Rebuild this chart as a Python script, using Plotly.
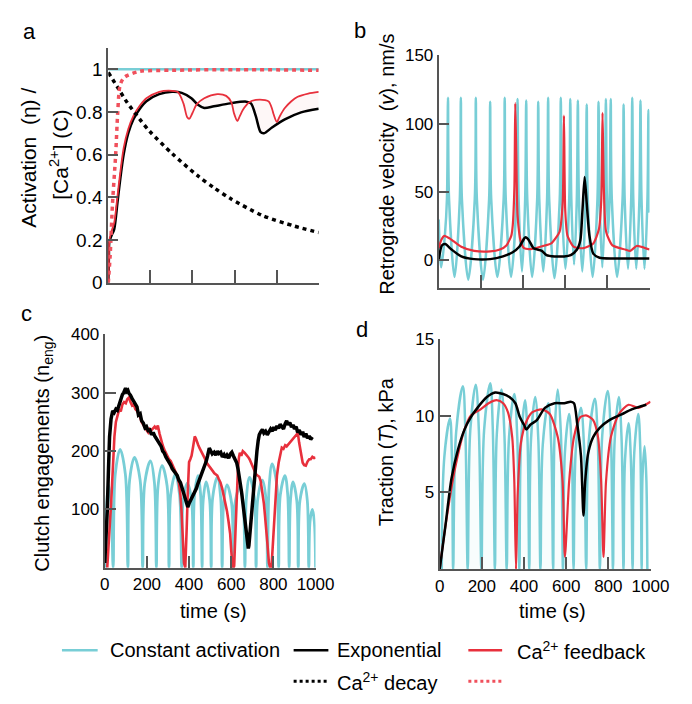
import plotly.graph_objects as go

W, H = 692, 704

# ---------------- colours ----------------
CYAN = "#78ced6"
BLACK = "#000000"
RED = "#e8303c"
RED_DOT = "#f0505c"
AXIS = "#555555"
FONT = "Liberation Sans, Arial, Helvetica, sans-serif"

# ---------------- panel a: activation / calcium ----------------
a_const_t = [0, 1000]
a_const_v = [1.0, 1.0]

a_cadecay_t = [0, 43, 89, 150, 196, 303, 426, 502, 579, 732, 885, 1000]
a_cadecay_v = [0.985, 0.917, 0.845, 0.765, 0.71, 0.605, 0.5, 0.445, 0.395, 0.315, 0.265, 0.235]

a_cafb_t = [0, 9, 20, 35, 45, 55, 70, 89, 150, 300, 600, 1000]
a_cafb_v = [0.0, 0.13, 0.37, 0.6, 0.8, 0.92, 0.955, 0.97, 0.99, 0.995, 0.998, 0.995]

a_exp_t = [0, 3, 5, 15, 28, 43, 55, 73, 95, 119, 150, 181, 242, 303, 349, 395, 426, 456,
           502, 579, 655, 678, 701, 724, 740, 778, 839, 916, 1000]
a_exp_v = [0.0, 0.12, 0.19, 0.22, 0.25, 0.37, 0.47, 0.6, 0.7, 0.765, 0.815, 0.85, 0.883,
           0.894, 0.889, 0.864, 0.833, 0.818, 0.826, 0.84, 0.848, 0.84, 0.78, 0.705, 0.7,
           0.727, 0.765, 0.798, 0.815]

a_fb_t = [0, 3, 5, 15, 28, 43, 55, 73, 95, 119, 150, 181, 242, 288, 330, 357, 375, 385, 400,
          420, 456, 518, 560, 585, 597, 613, 625, 640, 670, 701, 745, 763, 778, 786, 801, 815,
          839, 870, 900, 950, 1000]
a_fb_v = [0.0, 0.12, 0.2, 0.24, 0.28, 0.4, 0.5, 0.63, 0.72, 0.78, 0.83, 0.864, 0.894, 0.9,
          0.893, 0.84, 0.775, 0.768, 0.795, 0.835, 0.864, 0.883, 0.875, 0.845, 0.795, 0.758,
          0.78, 0.81, 0.845, 0.856, 0.855, 0.848, 0.815, 0.788, 0.753, 0.78, 0.818, 0.85,
          0.871, 0.886, 0.894]

# ---------------- panel b: retrograde velocity ----------------
b_const_t = [0, 12, 30, 39, 44,
             49, 75, 100, 105, 110, 140, 171, 176, 181, 210, 239, 244, 249, 278, 308, 313,
             318, 343, 369, 374, 379, 395, 410, 415, 420, 443, 467, 472, 477, 496, 514, 519,
             524, 549, 574, 579, 584, 601, 619, 624, 629, 642, 655, 660, 665, 681, 697, 702,
             707, 730, 753, 758, 763, 776, 788, 793, 797, 804, 811, 816, 821, 846, 872, 877,
             882, 898, 913, 918, 923, 937, 952, 957, 962, 976, 990, 995, 1000]
b_const_v = [30, -5, 20, 45, 119,
             45, -12, 45, 119, 45, -14, 45, 119, 45, -14, 45, 116, 45, -12, 45, 119,
             45, -12, 45, 118, 45, -8, 45, 117, 45, -12, 45, 116, 45, -8, 45, 119,
             45, -13, 45, 119, 45, -6, 45, 118, 45, -3, 45, 117, 45, -8, 45, 114,
             45, -12, 45, 116, 45, -5, 45, 118, 50, 20, 50, 118, 45, -12, 45, 114,
             45, -6, 45, 119, 45, -6, 45, 117, 45, -6, 45, 110, 35]

b_exp_t = [0, 15, 31, 61, 107, 168, 244, 305, 351, 382, 405, 412, 427, 450, 489, 511, 550,
           595, 626, 656, 672, 682, 692, 702, 715, 733, 763, 824, 901, 1000]
b_exp_v = [0.7, 11, 12, 8, 3, 1, 1, 3, 6, 10, 16, 17, 15, 9, 7, 4, 3, 3, 4, 8, 15, 37, 61,
           42, 18, 5, 2, 1.4, 1.4, 1.4]

b_fb_t = [0, 12, 27, 53, 107, 168, 244, 290, 321, 344, 351, 359, 363, 368, 374, 389, 405,
          443, 504, 534, 573, 588, 594, 600, 611, 641, 687, 733, 760, 771, 777, 783, 794,
          824, 885, 908, 939, 962, 1000]
b_fb_v = [9, 15, 18, 16, 10, 7, 6.6, 8, 11, 18, 25.5, 54, 115, 77, 33, 14, 9, 8.5, 11,
          12.5, 21, 42, 106, 37, 18, 10, 9, 12.5, 23, 44, 108, 54, 21, 11, 8, 7, 10.6, 10, 8]

# ---------------- panel c: clutch engagements ----------------
c_const_t = [5, 10, 18, 30, 40, 50, 73, 98, 110, 118, 141, 168, 180, 190, 217, 236, 245,
             253, 272, 296, 305, 313, 335, 355, 365, 372, 392, 412, 420, 426, 443, 455, 462,
             467, 481, 498, 505, 512, 534, 550, 557, 564, 580, 602, 610, 618, 641, 657, 665,
             672, 687, 710, 718, 726, 748, 765, 772, 780, 794, 817, 825, 833, 855, 868, 875,
             881, 893, 911, 918, 926, 947, 961, 968, 974, 985, 994, 1000]
c_const_v = [0, 110, 142, 110, 0, 160, 203, 160, 0, 150, 189, 150, 0, 145, 183, 145, 0,
             140, 175, 140, 0, 125, 160, 125, 0, 115, 145, 115, 0, 125, 158, 125, 0,
             115, 147, 115, 0, 120, 155, 120, 0, 110, 142, 110, 0, 110, 139, 110, 0,
             120, 155, 120, 0, 118, 150, 118, 0, 140, 178, 140, 0, 125, 158, 125, 0,
             115, 147, 115, 0, 115, 144, 115, 0, 80, 100, 80, 0]

c_exp_t = [0, 6, 12, 18, 23, 30, 38, 45, 53, 60, 69, 76, 84, 90, 95, 99, 104, 110, 115, 122,
           130, 138, 145, 153, 160, 168, 175, 183, 191, 198, 206, 214, 222, 230, 237, 245,
           252, 260, 268, 275, 282, 290, 298, 305, 313, 320, 328, 336, 344, 352, 359, 366,
           374, 382, 388, 394, 400, 406, 412, 418, 424, 430, 435, 440, 446, 452, 458, 464,
           470, 476, 481, 488, 496, 503, 510, 519, 527, 535, 542, 550, 558, 566, 573, 580,
           588, 596, 603, 610, 618, 626, 632, 638, 644, 649, 655, 660, 666, 672, 677, 681,
           684, 687, 690, 695, 700, 705, 710, 716, 722, 728, 733, 740, 748, 755, 763, 771,
           779, 787, 795, 802, 809, 817, 825, 832, 840, 848, 856, 863, 870, 878, 886, 893,
           900, 908, 915, 923, 931, 939, 946, 954, 962, 970, 977, 985]
c_exp_v = [8, 50, 97, 170, 225, 255, 269, 266, 272, 270, 282, 288, 297, 300, 306, 308, 302,
           304, 299, 296, 290, 286, 280, 276, 262, 264, 252, 248, 240, 242, 235, 236, 228,
           232, 226, 222, 218, 213, 208, 200, 197, 190, 186, 181, 176, 170, 166, 163, 158,
           150, 146, 138, 128, 115, 108, 104, 110, 114, 118, 122, 126, 132, 136, 142, 148,
           153, 157, 165, 172, 178, 182, 192, 205, 200, 195, 198, 193, 200, 196, 198, 190,
           194, 189, 193, 188, 195, 198, 192, 186, 180, 170, 158, 145, 130, 112, 98, 80, 62,
           45, 33, 38, 52, 65, 80, 100, 125, 148, 175, 200, 218, 228, 233, 237, 231, 234,
           228, 232, 238, 234, 241, 236, 243, 239, 246, 242, 238, 247, 252, 245, 249, 241,
           245, 238, 242, 232, 236, 228, 233, 224, 230, 222, 226, 220, 224]

c_fb_t = [12, 20, 26, 31, 38, 46, 53, 61, 69, 76, 84, 92, 100, 107, 115, 122, 130, 138, 145,
          153, 160, 168, 175, 183, 191, 198, 206, 214, 222, 230, 237, 245, 252, 260, 267, 275,
          282, 290, 298, 305, 313, 320, 328, 336, 344, 352, 359, 364, 369, 373, 376, 382, 386,
          389, 394, 400, 406, 412, 418, 424, 427, 432, 437, 443, 450, 458, 466, 474, 481, 490,
          497, 504, 512, 520, 527, 534, 541, 549, 557, 565, 572, 580, 587, 595, 600, 606, 611,
          614, 620, 626, 632, 637, 641, 648, 655, 664, 672, 680, 687, 694, 702, 710, 718, 725,
          733, 740, 748, 755, 760, 766, 772, 779, 785, 791, 796, 802, 808, 812, 817, 825, 832,
          840, 848, 856, 863, 870, 878, 886, 893, 901, 908, 916, 922, 928, 934, 939, 946, 954,
          962, 970, 977, 985, 993, 1000]
c_fb_v = [0, 40, 85, 114, 175, 225, 250, 264, 272, 268, 280, 284, 282, 289, 292, 284, 278,
          280, 272, 269, 265, 258, 250, 245, 238, 236, 232, 238, 236, 240, 242, 238, 244, 230,
          219, 210, 203, 197, 192, 186, 183, 178, 170, 164, 158, 145, 125, 100, 69, 35, 8, 0,
          30, 69, 130, 181, 186, 192, 205, 218, 225, 222, 215, 211, 205, 200, 194, 188, 181,
          176, 172, 169, 166, 162, 160, 158, 152, 146, 136, 124, 112, 97, 80, 58, 30, 3, 0, 3,
          60, 125, 170, 190, 197, 192, 200, 197, 194, 190, 186, 180, 172, 164, 160, 158, 156,
          148, 131, 110, 90, 69, 40, 8, 0, 0, 30, 69, 110, 140, 158, 180, 196, 206, 204, 210,
          208, 211, 214, 218, 222, 225, 228, 231, 215, 200, 185, 180, 176, 175, 182, 186, 186,
          190, 188, 189]

# ---------------- panel d: traction ----------------
d_const_t = [10, 22, 49, 58, 64, 78, 110, 122, 133, 145, 171, 186, 198, 211, 240, 252, 262,
             271, 293, 307, 318, 329, 354, 368, 378, 386, 405, 417, 425, 433, 453, 468, 478,
             489, 515, 529, 538, 545, 560, 575, 585, 594, 614, 627, 635, 646, 670, 685, 695,
             707, 736, 750, 760, 771, 797, 812, 822, 830, 850, 863, 872, 879, 896, 907, 915,
             923, 942, 952, 958, 962, 972, 980, 985]
d_const_v = [0, 7.3, 9.8, 7.3, 0, 8.9, 11.9, 8.9, 0, 9, 12, 9, 0, 9.1, 12.1, 9.1, 0,
             8.8, 11.7, 8.8, 0, 8.6, 11.4, 8.6, 0, 8.3, 11, 8.3, 0, 8.4, 11.2, 8.4, 0,
             8.1, 10.8, 8.1, 0, 8.8, 11.7, 8.8, 0, 7.6, 10.1, 7.6, 0, 7.9, 10.5, 7.9, 0,
             8.3, 11.1, 8.3, 0, 8.7, 11.6, 8.7, 0, 8.4, 11.2, 8.4, 0, 7.1, 9.5, 7.1, 0,
             7.6, 10.1, 7.6, 0, 6, 8, 6, 0]

d_exp_t = [0, 26, 56, 87, 118, 148, 179, 224, 263, 301, 331, 359, 380, 400, 411, 430, 461,
           499, 545, 591, 621, 637, 652, 670, 682, 690, 705, 728, 759, 805, 866, 911, 980]
d_exp_v = [0, 2.7, 5.9, 7.8, 9.1, 9.9, 10.5, 11.2, 11.5, 11.4, 11.2, 10.8, 9.9, 9.4, 9.1,
           9.4, 9.7, 10.5, 10.8, 10.8, 10.9, 10.8, 9.5, 7.4, 3.5, 5.7, 7.6, 8.6, 9.2, 9.7,
           10.1, 10.4, 10.7]

d_fb_t = [0, 26, 72, 118, 148, 194, 232, 270, 301, 324, 344, 354, 362, 370, 385, 408, 438,
          484, 522, 560, 583, 594, 614, 637, 667, 698, 728, 751, 766, 777, 789, 812, 850, 896,
          942, 1000]
d_fb_v = [0, 2.7, 6.5, 9.1, 10, 10.4, 10.8, 11, 10.8, 10.2, 8.6, 5.7, 0, 4.9, 8.2, 9.5,
          10.2, 10.4, 10.1, 8.6, 5.7, 0.8, 5.7, 8.6, 9.9, 10, 9.7, 8.6, 5.7, 0.8, 5.7, 8.6,
          10.1, 10.7, 10.5, 10.9]

# ---------------- tick labels ----------------
time_ticks = [0, 200, 400, 600, 800, 1000]
a_yticks = [0, 0.2, 0.4, 0.6, 0.8, 1]
a_ylabels = ["0", "0.2", "0.4", "0.6", "0.8", "1"]
b_yticks = [0, 50, 100, 150]
c_yticks = [100, 200, 300, 400]
d_yticks = [5, 10, 15]


def fx(px):
    return px / W


def fy(py):
    return 1 - py / H


fig = go.Figure()


def line(x, y, color, width, axes, dash=None, shape="linear", smoothing=1.0,
         fill=None, fillcolor=None):
    xa, ya = axes
    ln = dict(color=color, width=width, shape=shape)
    if shape == "spline":
        ln["smoothing"] = smoothing
    if dash:
        ln["dash"] = dash
    fig.add_trace(go.Scatter(x=x, y=y, mode="lines", line=ln, xaxis=xa, yaxis=ya,
                             showlegend=False, hoverinfo="skip",
                             fill=fill, fillcolor=fillcolor))


A, B, C, D = ("x", "y"), ("x2", "y2"), ("x3", "y3"), ("x4", "y4")

# panel a
line(a_const_t, a_const_v, CYAN, 2.5, A)
line(a_exp_t, a_exp_v, BLACK, 2.5, A, shape="spline", smoothing=0.8)
line(a_fb_t, a_fb_v, RED, 1.8, A, shape="spline", smoothing=0.8,
     fill="tonexty", fillcolor="rgba(232,48,60,0.04)")
line(a_cadecay_t, a_cadecay_v, BLACK, 3.5, A, dash="4px,4px", shape="spline", smoothing=0.8)
line(a_cafb_t, a_cafb_v, RED_DOT, 3.5, A, dash="4px,4px", shape="spline", smoothing=0.8)

# panel b
line(b_const_t, b_const_v, CYAN, 2.5, B, shape="spline", smoothing=0.9)
line(b_fb_t, b_fb_v, RED, 2.2, B, shape="spline", smoothing=0.6)
line(b_exp_t, b_exp_v, BLACK, 2.5, B, shape="spline", smoothing=0.6)

# panel c
line(c_const_t, c_const_v, CYAN, 2.8, C, shape="spline", smoothing=1.0)
line(c_fb_t, c_fb_v, RED, 2.6, C)
line(c_exp_t, c_exp_v, BLACK, 3.5, C)

# panel d
line(d_const_t, d_const_v, CYAN, 2.5, D, shape="spline", smoothing=1.0,
     fill="tozeroy", fillcolor="rgba(120,206,214,0.05)")
line(d_fb_t, d_fb_v, RED, 2.2, D, shape="spline", smoothing=0.7)
line(d_exp_t, d_exp_v, BLACK, 2.5, D, shape="spline", smoothing=0.7)

axis_common = dict(showline=True, linecolor=AXIS, linewidth=2, ticks="inside",
                   tickcolor=AXIS, tickwidth=2, showgrid=False, zeroline=False,
                   tickfont=dict(size=17, color="black", family=FONT))

# pixel boxes of the four plotting areas: (left, right, top, bottom)
boxes = {
    "a": (107, 325, 40, 281.7),
    "b": (449.3, 667.7, 47.7, 287),
    "c": (103.3, 321.7, 335, 575),
    "d": (450.3, 668.7, 339.3, 576.7),
}


def dom(box):
    l, r, t, b = box
    return [fx(l), fx(r)], [fy(b), fy(t)]


xa_d, ya_d = dom(boxes["a"])
xb_d, yb_d = dom(boxes["b"])
xc_d, yc_d = dom(boxes["c"])
xd_d, yd_d = dom(boxes["d"])

fig.update_layout(
    width=W, height=H, margin=dict(l=0, r=0, t=0, b=0),
    paper_bgcolor="white", plot_bgcolor="white",
    font=dict(family=FONT, color="black"),
    showlegend=False,
    xaxis=dict(axis_common, domain=xa_d, range=[0, 1000], tickvals=time_ticks,
               showticklabels=False, ticklen=13, anchor="y"),
    yaxis=dict(axis_common, domain=ya_d, range=[0, 1.1], tickvals=a_yticks,
               ticktext=a_ylabels, ticklen=10, anchor="x",
               tickfont=dict(size=19, color="black", family=FONT)),
    xaxis2=dict(axis_common, domain=xb_d, range=[0, 1000], tickvals=time_ticks,
                showticklabels=False, ticklen=13, anchor="y2"),
    yaxis2=dict(axis_common, domain=yb_d, range=[-20, 150], tickvals=b_yticks,
                ticklen=10, anchor="x2"),
    xaxis3=dict(axis_common, domain=xc_d, range=[0, 1000], tickvals=time_ticks,
                ticklen=12, anchor="y3"),
    yaxis3=dict(axis_common, domain=yc_d, range=[0, 400], tickvals=c_yticks,
                ticklen=11, anchor="x3"),
    xaxis4=dict(axis_common, domain=xd_d, range=[0, 1000], tickvals=time_ticks,
                ticklen=12, anchor="y4"),
    yaxis4=dict(axis_common, domain=yd_d, range=[0, 15], tickvals=d_yticks,
                ticklen=11, anchor="x4"),
)

ann = []


def text(x, y, s, size=20, angle=0, xanchor="center", yanchor="middle"):
    ann.append(dict(x=fx(x), y=fy(y), xref="paper", yref="paper", text=s,
                    showarrow=False, textangle=angle, xanchor=xanchor,
                    yanchor=yanchor, font=dict(size=size, family=FONT, color="black")))


# panel letters
text(25, 23, "a", 22)
text(368, 22, "b", 22)
text(22, 313, "c", 22)
text(370, 330, "d", 22)

# axis titles
text(25, 153, "Activation  (η) /", 21, -90)
text(56, 150, "[Ca<sup>2+</sup>] (C)", 21, -90)
text(396, 160, "Retrograde velocity  (<i>v</i>), nm/s", 20, -90)
text(39, 457, "Clutch engagements (n<sub>eng</sub>)", 20, -90)
text(395, 456, "Traction (<i>T</i>), kPa", 20, -90)
text(216, 620, "time (s)", 20)
text(567, 620, "time (s)", 20)

# legend
text(107, 660, "Constant activation", 20, xanchor="left")
text(342, 660, "Exponential", 20, xanchor="left")
text(528, 660, "Ca<sup>2+</sup> feedback", 20, xanchor="left")
text(342, 692, "Ca<sup>2+</sup> decay", 20, xanchor="left")
fig.update_layout(annotations=ann)

shapes = []


def seg(x0, x1, y, color, width, dash="solid"):
    shapes.append(dict(type="line", xref="paper", yref="paper", x0=fx(x0), x1=fx(x1),
                       y0=fy(y), y1=fy(y), line=dict(color=color, width=width, dash=dash)))


seg(59, 96, 660, CYAN, 2.5)
seg(299, 335, 660, BLACK, 2.5)
seg(480, 515, 660, RED, 2.5)
seg(299, 335, 692, BLACK, 3, "dot")
seg(480, 515, 692, RED_DOT, 3, "dot")
fig.update_layout(shapes=shapes)

fig.write_html("out.html")
